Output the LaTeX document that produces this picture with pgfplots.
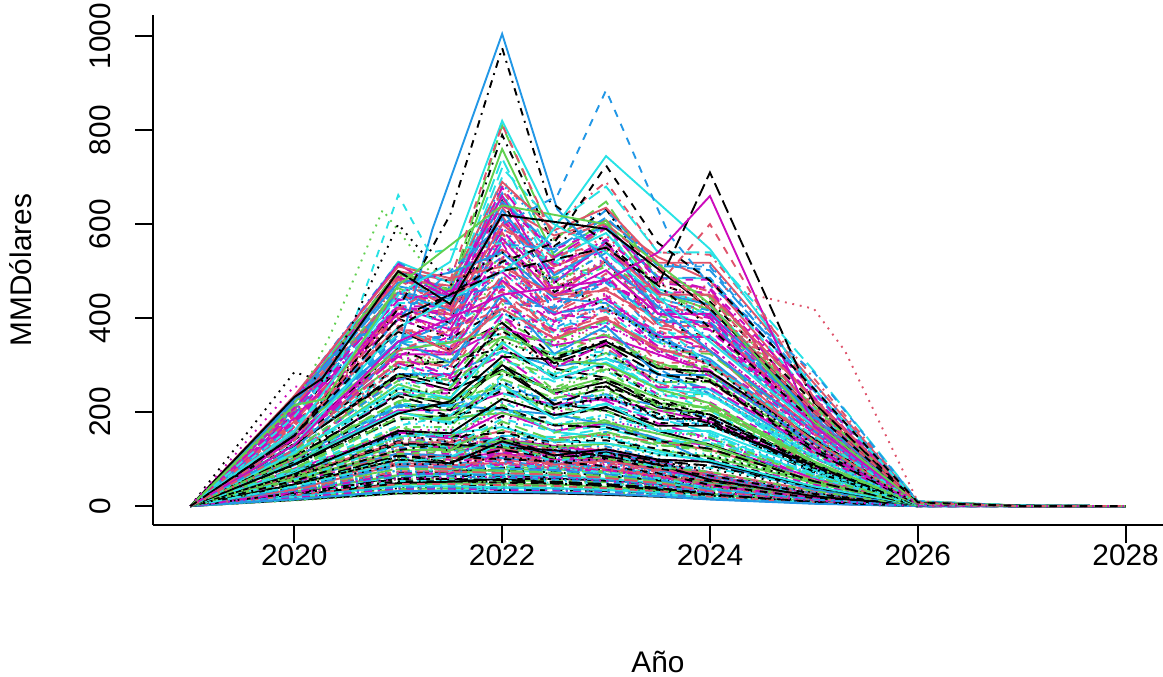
\documentclass[border=0pt]{standalone}
\usepackage{fontspec}
\setmainfont{Liberation Sans}
\usepackage{pgfplots}
\usepackage{pgfplotstable}
\pgfplotsset{compat=1.18}
\definecolor{c0}{HTML}{000000}
\definecolor{c1}{HTML}{DF536B}
\definecolor{c2}{HTML}{61D04F}
\definecolor{c3}{HTML}{2297E6}
\definecolor{c4}{HTML}{28E2E5}
\definecolor{c5}{HTML}{CD0BBC}
\tikzset{
 ls1/.style={solid},
 ls2/.style={dash pattern=on 3.8bp off 3.8bp},
 ls3/.style={dash pattern=on 0.95bp off 2.85bp},
 ls4/.style={dash pattern=on 0.95bp off 2.85bp on 3.8bp off 2.85bp},
 ls5/.style={dash pattern=on 6.65bp off 2.85bp},
}
\pgfplotscreateplotcyclelist{rlist}{%
c0,ls1\\c1,ls2\\c2,ls3\\c3,ls4\\c4,ls5\\c5,ls1\\
c0,ls2\\c1,ls3\\c2,ls4\\c3,ls5\\c4,ls1\\c5,ls2\\
c0,ls3\\c1,ls4\\c2,ls5\\c3,ls1\\c4,ls2\\c5,ls3\\
c0,ls4\\c1,ls5\\c2,ls1\\c3,ls2\\c4,ls3\\c5,ls4\\
c0,ls5\\c1,ls1\\c2,ls2\\c3,ls3\\c4,ls4\\c5,ls5\\}
\pgfplotstableread[header=has colnames]{
2019 2020 2021 2021.5 2022 2022.5 2023 2023.5 2024 2025 2026
0 13 27 28 28 27 24 20 15 6 0
0 80 161 153 146 131 117 95 66 22 1
0 12 26 27 30 30 29 25 20 8 0
0 72 144 137 144 127 127 101 72 29 1
0 14 30 32 32 30 27 23 18 7 0
0 78 156 149 142 128 114 92 64 21 1
0 14 29 31 34 34 32 28 22 10 0
0 70 140 133 140 123 123 98 70 28 1
0 16 34 36 36 34 31 26 20 8 0
0 76 152 145 138 124 110 90 62 21 1
0 15 32 34 38 38 36 31 25 11 0
0 68 136 129 136 120 120 95 68 27 1
0 18 38 40 40 38 34 29 22 9 0
0 74 147 141 134 121 107 87 60 20 1
0 17 36 38 42 42 40 34 27 12 0
0 66 132 125 132 116 116 92 66 26 1
0 20 42 44 44 42 37 32 24 10 0
0 72 143 137 130 117 104 85 59 20 1
0 18 39 41 46 46 44 38 30 13 0
0 64 128 122 128 113 113 90 64 26 1
0 22 46 48 48 46 41 35 26 11 0
0 69 139 132 126 113 101 82 57 19 1
0 20 43 45 50 50 48 41 33 14 0
0 62 124 118 124 109 109 87 62 25 1
0 23 49 52 52 49 44 37 29 11 0
0 67 134 128 122 110 98 79 55 18 0
0 22 46 49 54 54 51 44 35 15 0
0 60 120 114 120 106 106 84 60 24 1
0 25 53 56 56 53 48 40 31 12 0
0 65 130 124 118 106 94 77 53 18 0
0 23 49 52 58 58 55 48 38 16 0
0 58 116 110 116 102 102 81 58 23 1
0 27 57 60 60 57 51 43 33 13 0
0 63 125 120 114 103 91 74 51 17 0
0 25 53 56 62 62 59 51 40 17 0
0 56 112 106 112 99 99 78 56 22 1
0 29 61 64 64 61 54 46 35 14 0
0 61 121 116 110 99 88 72 50 17 0
0 26 56 59 66 66 63 54 43 18 1
0 54 108 103 108 95 95 76 54 22 1
0 31 65 68 68 65 58 49 37 15 0
0 58 117 111 106 95 85 69 48 16 0
0 28 60 63 70 70 67 57 46 20 1
0 52 104 99 104 92 92 73 52 21 1
0 32 68 72 72 68 61 52 40 16 0
0 56 112 107 102 92 82 66 46 15 0
0 30 63 67 74 74 70 61 48 21 1
0 50 100 95 100 88 88 70 50 20 1
0 34 72 76 76 72 65 55 42 17 0
0 54 108 103 98 88 78 64 44 15 0
0 31 66 70 78 78 74 64 51 22 1
0 48 96 91 96 84 84 67 48 19 0
0 36 76 80 80 76 68 58 44 18 0
0 52 103 99 94 85 75 61 42 14 0
0 33 70 74 82 82 78 67 53 23 1
0 46 92 87 92 81 81 64 46 18 0
0 38 80 84 84 80 71 60 46 18 1
0 50 99 95 90 81 72 59 41 14 0
0 34 73 77 86 86 82 71 56 24 1
0 44 88 84 88 77 77 62 44 18 0
}\rawc
\pgfplotstableread[header=has colnames]{
2019 2020 2021 2021.5 2022 2022.5 2023 2023.5 2024 2025 2026 2027 2028
0 99 240 216 300 240 264 210 195 90 4 0 0
0 54 114 102 120 90 84 66 54 22 1 0 0
0 130 312 312 520 468 546 442 442 208 8 1 0
0 30 63 63 60 57 51 42 27 10 0 0 0
0 164 349 349 410 369 390 349 308 144 5 1 0
0 66 160 144 200 160 176 140 130 60 2 0 0
0 195 423 390 650 455 520 390 358 182 8 1 0
0 45 95 95 90 86 77 63 41 15 0 0 0
0 88 210 210 350 315 368 298 298 140 5 1 0
0 100 213 213 250 225 238 213 188 88 3 0 0
0 20 42 42 40 38 34 28 18 7 0 0 0
0 168 364 336 560 392 448 336 308 157 7 1 0
0 72 152 136 160 120 112 88 72 29 1 0 0
0 115 276 276 460 414 483 391 391 184 7 1 0
0 38 79 79 75 71 64 53 34 13 0 0 0
0 132 281 281 330 297 314 281 248 116 4 0 0
0 210 455 420 700 490 560 420 385 196 8 1 0
0 55 132 132 220 198 231 187 187 88 3 0 0
0 25 53 53 50 48 43 35 23 9 0 0 0
0 216 456 408 480 360 336 264 216 86 4 0 0
0 56 119 119 140 126 133 119 105 49 2 0 0
0 150 360 360 600 540 630 510 510 240 9 1 0
0 89 216 194 270 216 238 189 176 81 3 0 0
0 18 37 37 35 33 30 25 16 6 0 0 0
0 176 371 332 390 293 273 215 176 70 3 0 0
0 36 88 79 110 88 97 77 72 33 1 0 0
0 216 459 459 540 486 513 459 405 189 6 1 0
0 45 108 108 180 162 189 153 153 72 3 0 0
0 43 89 89 85 81 72 60 38 14 0 0 0
0 205 496 446 620 496 546 434 403 186 7 1 0
0 131 276 247 290 218 203 160 131 52 2 0 0
0 23 47 47 45 43 38 32 20 8 0 0 0
0 142 344 310 430 344 378 301 280 129 5 1 0
0 38 90 90 150 135 158 128 128 60 2 0 0
0 222 481 444 740 518 592 444 407 207 9 1 0
0 96 204 204 240 216 228 204 180 84 3 0 0
0 50 105 105 100 95 85 70 45 17 1 0 0
0 122 296 266 370 296 326 259 241 111 4 0 0
0 191 464 418 580 464 510 406 377 174 7 1 0
0 33 68 68 65 62 55 46 29 11 0 0 0
0 95 200 179 210 158 147 116 95 38 2 0 0
0 200 425 425 500 450 475 425 375 175 6 1 0
0 43 104 94 130 104 114 91 85 39 2 0 0
0 170 408 408 680 600 690 540 535 272 10 1 0
0 78 186 186 310 279 326 264 264 124 5 0 0
0 15 32 32 30 29 26 21 14 5 0 0 0
0 203 428 383 450 338 315 248 203 81 4 0 0
0 76 162 162 190 171 181 162 143 67 2 0 0
0 225 500 460 790 553 632 474 435 221 9 1 0
0 35 74 74 70 67 60 49 32 12 0 0 0
0 144 306 306 360 324 342 306 270 126 4 0 0
0 230 500 450 530 398 371 292 239 95 4 0 0
0 56 136 122 170 136 150 119 111 51 2 0 0
0 100 240 240 400 360 420 340 340 160 6 1 0
0 28 58 58 55 52 47 39 25 9 0 0 0
0 220 500 480 640 576 608 530 480 224 8 1 0
0 117 247 221 260 195 182 143 117 47 2 0 0
0 31 76 68 95 76 84 67 62 29 1 0 0
0 155 376 338 470 376 414 329 306 141 6 1 0
0 144 304 272 320 240 224 176 144 58 3 0 0
0 63 131 131 125 119 106 88 56 21 1 0 0
0 210 490 480 590 531 561 500 443 207 7 1 0
0 58 138 138 230 207 242 196 196 92 3 0 0
0 22 40 40 38 36 32 26 17 6 0 0 0
0 180 432 432 720 600 680 540 540 288 11 1 0
0 152 323 323 380 342 361 323 285 133 5 0 0
0 65 138 123 145 109 102 80 65 26 1 0 0
0 168 408 367 510 408 449 357 332 153 6 1 0
0 70 168 168 280 252 294 238 238 112 4 0 0
0 40 84 84 80 76 68 56 36 14 0 0 0
0 218 520 475 660 528 581 462 429 198 8 1 0
0 112 272 245 340 272 299 238 221 102 4 0 0
0 42 89 89 105 95 100 89 79 37 1 0 0
0 176 374 374 440 396 418 374 330 154 5 1 0
0 225 500 460 810 567 648 486 446 227 10 1 0
0 103 215 215 205 195 174 144 92 35 1 0 0
0 143 342 342 570 513 599 485 485 228 9 1 0
0 26 58 60 62 60 54 44 30 12 0 0 0
0 189 399 357 420 315 294 231 189 76 3 0 0
0 64 136 136 160 144 152 136 120 56 2 0 0
0 220 494 456 760 532 608 456 418 213 9 1 0
0 87 212 191 265 212 233 186 172 80 3 0 0
0 123 294 294 490 441 515 417 417 196 7 1 0
0 29 69 69 115 104 121 98 98 46 2 0 0
}\rawa
\pgfplotstableread[header=has colnames]{
2019 2020 2021 2021.5 2022 2022.5 2023 2023.5 2024 2025 2026
0 46 108 94 120 102 114 96 86 40 1
0 207 483 469 690 587 635 518 518 262 9
0 53 111 116 126 103 101 83 73 32 1
0 205 479 465 684 581 629 513 513 260 9
0 46 103 90 132 95 112 82 82 40 2
0 224 488 447 678 529 597 488 461 203 7
0 46 99 91 138 108 121 99 94 41 2
0 222 484 444 672 524 591 484 457 202 7
0 43 101 98 144 122 132 108 108 55 2
0 233 519 453 666 480 566 413 413 200 8
0 42 93 105 150 147 165 138 135 68 2
0 231 515 449 660 475 561 409 409 198 8
0 73 156 148 156 137 140 122 101 41 1
0 216 471 432 654 510 576 471 445 196 7
0 62 146 126 162 138 154 130 117 53 2
0 194 454 441 648 551 596 486 486 246 8
0 71 148 155 168 138 134 111 97 42 2
0 193 449 437 642 546 591 482 482 244 8
0 61 136 118 174 125 148 108 108 52 2
0 210 458 420 636 496 560 458 432 191 7
0 59 130 119 180 140 158 130 122 54 2
0 208 454 416 630 491 554 454 428 189 7
0 56 130 126 186 158 171 140 140 71 2
0 218 487 424 624 449 530 387 387 187 7
0 54 119 134 192 188 211 177 173 86 3
0 216 482 420 618 445 525 383 383 185 7
0 93 198 188 198 174 178 154 129 51 2
0 202 441 404 612 477 539 441 416 184 7
0 78 184 159 204 173 194 163 147 67 2
0 182 424 412 606 515 558 455 455 230 8
0 88 185 193 210 172 168 139 122 53 2
0 180 420 408 600 510 552 450 450 228 8
0 76 168 147 216 156 184 134 134 65 3
0 196 428 392 594 463 523 428 404 178 7
0 73 160 147 222 173 195 160 151 67 2
0 194 423 388 588 459 517 423 400 176 6
0 68 160 155 228 194 210 171 171 87 3
0 204 454 396 582 419 495 361 361 175 7
0 66 145 164 234 229 257 215 211 105 4
0 202 449 392 576 415 490 357 357 173 7
0 113 240 228 240 211 216 187 156 62 2
0 188 410 376 570 445 502 410 388 171 6
0 93 221 192 246 209 234 197 177 81 3
0 169 395 384 564 479 519 423 423 214 7
0 106 222 232 252 207 202 166 146 63 3
0 156 346 391 558 547 614 513 502 251 9
0 90 201 175 258 186 219 160 160 77 3
0 182 397 364 552 431 486 397 375 166 6
0 87 190 174 264 206 232 190 180 79 3
0 207 491 426 546 464 519 437 393 180 7
0 81 189 184 270 230 248 203 203 103 4
0 227 475 497 540 443 432 356 313 135 5
0 77 171 193 276 270 304 254 248 124 4
0 187 417 363 534 384 454 331 331 160 6
0 133 282 268 282 248 254 220 183 73 3
0 174 380 348 528 412 465 380 359 158 6
0 109 259 225 288 245 274 230 207 95 3
0 157 365 355 522 444 480 392 392 198 7
0 123 259 270 294 241 235 194 171 74 3
0 144 320 361 516 506 568 475 464 232 8
0 105 234 204 300 216 255 186 186 90 4
0 235 510 485 510 449 459 398 332 133 5
0 101 220 202 306 239 269 220 208 92 3
0 192 454 393 504 428 479 403 363 166 6
0 94 218 212 312 265 287 234 234 119 4
0 209 438 458 498 408 398 329 289 125 5
0 89 197 223 318 312 350 293 286 143 5
0 172 384 335 492 354 418 305 305 148 6
0 152 324 308 324 285 292 253 211 84 3
0 160 350 321 486 379 428 350 330 146 5
0 125 297 257 330 281 314 264 238 109 4
0 144 336 326 480 408 442 360 360 182 6
0 141 296 309 336 276 269 222 195 84 3
0 133 294 332 474 465 521 436 427 213 8
0 120 267 233 342 246 291 212 212 103 4
0 220 468 445 468 412 421 365 304 122 4
0 115 251 230 348 271 306 251 237 104 4
0 176 416 360 462 393 439 370 333 152 6
0 106 248 241 354 301 326 266 266 135 5
0 192 401 420 456 374 365 301 264 114 5
0 101 223 252 360 353 396 331 324 162 6
0 158 351 306 450 324 383 279 279 135 5
0 172 366 348 366 322 329 285 238 95 3
0 147 320 293 444 346 391 320 302 133 5
0 141 335 290 372 316 353 298 268 123 4
0 131 307 298 438 372 403 329 329 166 6
0 159 333 348 378 310 302 249 219 95 4
0 121 268 302 432 423 475 397 389 194 7
0 134 300 261 384 276 326 238 238 115 5
0 200 426 405 426 375 383 332 277 111 4
0 129 281 257 390 304 343 281 265 117 4
0 160 378 328 420 357 399 336 302 139 5
0 119 277 269 396 337 364 297 297 150 5
0 174 364 381 414 339 331 273 240 104 4
0 113 249 281 402 394 442 370 362 181 6
0 143 318 277 408 294 347 253 253 122 5
}\rawb
\pgfplotstabletranspose\Tc{\rawc}
\pgfplotstabletranspose\Ta{\rawa}
\pgfplotstabletranspose\Tb{\rawb}
\begin{document}
\fontsize{14.9bp}{17.9bp}\selectfont
\begin{tikzpicture}
\useasboundingbox (-76.5bp,-76bp) rectangle (505bp,262.5bp);
\begin{axis}[
 at={(0,0)}, anchor=south west,
 scale only axis, width=505bp, height=255bp,
 xmin=2018.64, xmax=2028.36, ymin=-40.2, ymax=1045.2,
 axis lines*=left, axis line style={-, line width=0.95bp},
 xtick={2020,2022,...,2028}, ytick={0,200,...,1000},
 tick align=outside, major tick length=9bp,
 tick style={line width=0.95bp, black},
 /pgf/number format/1000 sep={},
 /pgf/number format/assume math mode=true,
 xticklabel style={anchor=north, inner sep=0pt, yshift=-0.5bp},
 yticklabel style={xshift=-12.5bp, rotate=90, anchor=base, inner sep=0pt},
 xlabel={Año}, ylabel={MMDólares},
 xlabel style={at={([yshift=-73.5bp]axis description cs:0.5,0)}, anchor=base, inner sep=0pt},
 ylabel style={at={([xshift=-60.5bp]axis description cs:0,0.5)}, anchor=base, inner sep=0pt},
 cycle list name=rlist,
 every axis plot/.append style={line width=0.95bp},
]
\pgfplotsinvokeforeach{1,...,60}{\addplot table[x=colnames, y index=#1]{\Tc};}
\pgfplotsinvokeforeach{1,...,84}{\addplot table[x=colnames, y index=#1]{\Ta};}
\pgfplotsinvokeforeach{1,...,96}{\addplot table[x=colnames, y index=#1]{\Tb};}
% outliers
\addplot[c3, ls1] coordinates {(2019,0) (2020,120) (2021,330) (2021.33,590) (2022,1005) (2022.53,632) (2023,520) (2024,330) (2025,160) (2026,6) (2027,1) (2028,0)};
\addplot[c0, ls4] coordinates {(2019,0) (2020,150) (2021,420) (2021.5,620) (2022,975) (2022.45,650) (2023,560) (2024,380) (2025,180) (2026,6) (2027,1) (2028,0)};
\addplot[c4, ls1] coordinates {(2019,0) (2020,160) (2021,450) (2021.5,520) (2022,820) (2022.5,600) (2023,540) (2024,350) (2025,170) (2026,6) (2027,0) (2028,0)};
\addplot[c4, ls1] coordinates {(2019,0) (2020,130) (2021,380) (2022,500) (2022.4,560) (2023,745) (2024,547) (2025,250) (2026,8) (2027,1) (2028,0)};
\addplot[c3, ls2] coordinates {(2019,0) (2020,140) (2021,400) (2022,600) (2022.53,660) (2023,885) (2023.6,580) (2024,470) (2025,285) (2026,10) (2027,1) (2028,0)};
\addplot[c0, ls5] coordinates {(2019,0) (2020,150) (2021,400) (2022,500) (2023,550) (2023.5,470) (2024,710) (2025,220) (2026,6) (2027,1) (2028,0)};
\addplot[c5, ls1] coordinates {(2019,0) (2020,130) (2021,350) (2022,450) (2023,480) (2023.5,540) (2024,660) (2025,170) (2026,5) (2027,0) (2028,0)};
\addplot[c1, ls2] coordinates {(2019,0) (2020,120) (2021,330) (2022,420) (2023,460) (2023.5,470) (2024,600) (2025,230) (2026,7) (2027,0) (2028,0)};
\addplot[c1, ls3] coordinates {(2019,0) (2020,100) (2021,300) (2022,380) (2023,420) (2024,470) (2024.5,445) (2025,420) (2025.3,330) (2026,10) (2027,0) (2028,0)};
\addplot[c4, ls2] coordinates {(2019,0) (2020,190) (2020.45,313) (2021,662) (2021.3,540) (2022,560) (2023,480) (2024,300) (2025,150) (2026,5) (2027,0) (2028,0)};
\addplot[c2, ls3] coordinates {(2019,0) (2020,210) (2020.35,366) (2020.85,630) (2021.3,500) (2022,520) (2023,430) (2024,280) (2025,140) (2026,5) (2027,0) (2028,0)};
\addplot[c0, ls3] coordinates {(2019,0) (2020,285) (2020.3,265) (2021,600) (2021.5,470) (2022,540) (2023,420) (2024,300) (2025,130) (2026,5) (2027,0) (2028,0)};
\addplot[c0, ls1] coordinates {(2019,0) (2020,232) (2020.27,272) (2021,500) (2021.5,430) (2022,620) (2023,590) (2024,420) (2025,200) (2026,7) (2027,0) (2028,0)};
\addplot[c2, ls1] coordinates {(2019,0) (2020,215) (2020.3,228) (2021,470) (2022,640) (2023,600) (2024,430) (2025,180) (2026,6) (2027,0) (2028,0)};
\addplot[c5, ls3] coordinates {(2019,0) (2020,255) (2020.4,240) (2021,450) (2022,560) (2023,480) (2024,340) (2025,160) (2026,5) (2027,0) (2028,0)};
\addplot[c1, ls2] coordinates {(2019,0) (2020,140) (2021,420) (2021.5,480) (2022,812) (2022.5,570) (2023,600) (2024,420) (2025,200) (2026,7) (2027,0) (2028,0)};
\addplot[c0, ls2] coordinates {(2019,0) (2020,150) (2021,380) (2022,520) (2022.5,560) (2023,725) (2023.5,560) (2024,480) (2025,250) (2026,8) (2027,0) (2028,0)};
\end{axis}
\end{tikzpicture}
\end{document}
